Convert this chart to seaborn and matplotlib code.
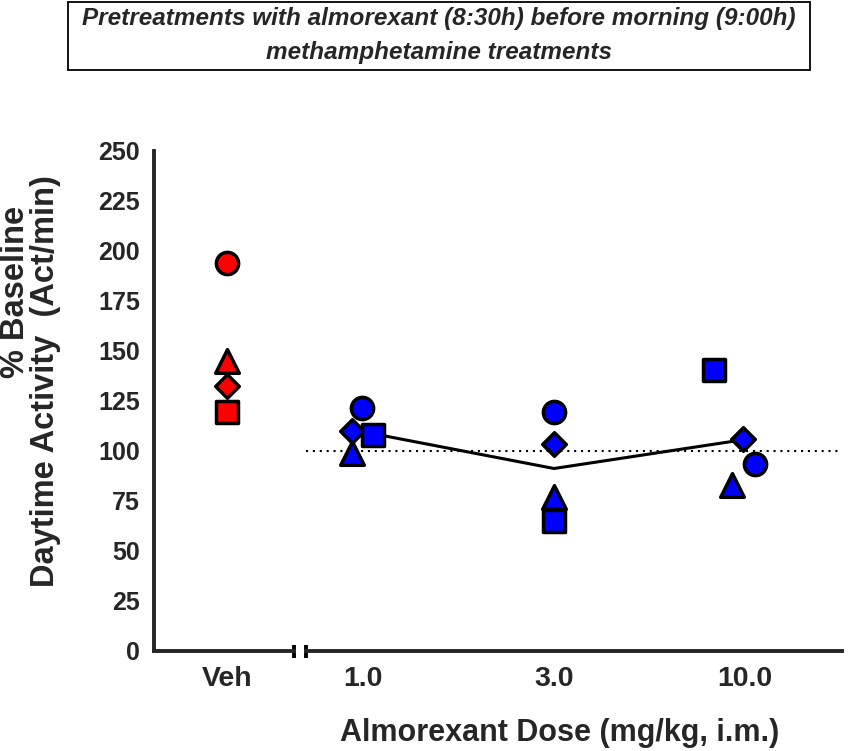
import numpy as np
import pandas as pd
import matplotlib
matplotlib.use("Agg")
import matplotlib.pyplot as plt
from matplotlib.patches import Rectangle
import seaborn as sns

# ======================================
# DATA
# ======================================

doses = ["Veh", "1.0", "3.0", "10.0"]

circle_vals = [194, 121.5, 119.5, 93.5]
triangle_vals = [145, 99, 77, 83]
diamond_vals = [132.5, 110, 103.5, 106]
square_vals = [119.5, 108, 65, 140.5]

# horizontal scatter of each animal around its dose tick
circle_jit = [0, -0.005, 0, 0.05]
triangle_jit = [0, -0.06, 0, -0.07]
diamond_jit = [0, -0.06, 0, -0.01]
square_jit = [0, 0.05, 0, -0.16]

y_ticks = [0, 25, 50, 75, 100, 125, 150, 175, 200, 225, 250]

# ======================================
# LONG-FORM TABLE
# ======================================

subjects = {
    "circle": (circle_vals, circle_jit, "o", 16),
    "triangle": (triangle_vals, triangle_jit, "^", 17),
    "diamond": (diamond_vals, diamond_jit, "D", 12),
    "square": (square_vals, square_jit, "s", 15.5),
}

rows = []
for name, (vals, jit, mk, ms) in subjects.items():
    for i, d in enumerate(doses):
        rows.append({
            "subject": name,
            "dose": d,
            "idx": i,
            "x": i + jit[i],
            "value": vals[i],
        })
df = pd.DataFrame(rows)

veh = df[df["dose"] == "Veh"].copy()
alm = df[df["dose"] != "Veh"].copy()
alm["idx"] = alm["idx"] - 1
alm["x"] = alm["x"] - 1

# ======================================
# FIGURE
# ======================================

sns.set_style("white")
plt.rcParams["font.family"] = ["Liberation Sans", "DejaVu Sans"]
plt.rcParams["font.weight"] = "bold"

W, H = 855, 751
fig = plt.figure(figsize=(W / 100, H / 100), dpi=100)

y0, y1 = 651, 151
x_l0, x_l1 = 154, 294
x_r0, x_r1 = 306, 842
px_per_unit = 191.0
lw_axis = 2.8

ax_l = fig.add_axes([x_l0 / W, 1 - y0 / H, (x_l1 - x_l0) / W, (y0 - y1) / H])
ax_r = fig.add_axes([x_r0 / W, 1 - y0 / H, (x_r1 - x_r0) / W, (y0 - y1) / H])

ax_l.set_xlim((x_l0 - 227) / px_per_unit, (x_l1 - 227) / px_per_unit)
ax_r.set_xlim((x_r0 - 363) / px_per_unit, (x_r1 - 745) / px_per_unit + 2)

for ax in (ax_l, ax_r):
    ax.set_ylim(0, 250)
    ax.set_facecolor("white")
    for s in ["top", "right"]:
        ax.spines[s].set_visible(False)
    ax.spines["bottom"].set_linewidth(lw_axis)
    ax.spines["left"].set_linewidth(lw_axis)
    ax.tick_params(axis="both", direction="out", width=lw_axis, length=7,
                   pad=4, color="black")
    ax.tick_params(axis="x", labelsize=20.5, pad=4)
    ax.tick_params(axis="y", labelsize=18, pad=3)

ax_r.spines["left"].set_visible(False)
ax_r.tick_params(axis="y", left=False, labelleft=False)

ax_l.set_yticks(y_ticks)
ax_l.set_yticklabels([str(t) for t in y_ticks], fontweight="bold")
ax_l.set_xticks([0])
ax_l.set_xticklabels(doses[:1], fontweight="bold")
ax_r.set_xticks([0, 1, 2])
ax_r.set_xticklabels(doses[1:], fontweight="bold")

# axis break marks
ax_l.plot([1, 1], [-0.013, 0.013], transform=ax_l.transAxes,
          color="black", lw=lw_axis, clip_on=False, solid_capstyle="butt")
ax_r.plot([0, 0], [-0.013, 0.013], transform=ax_r.transAxes,
          color="black", lw=lw_axis, clip_on=False, solid_capstyle="butt")

# baseline reference
ax_r.axhline(100, color="black", lw=1.5, ls=(0, (1, 2.3)), zorder=1)

# mean line across almorexant doses
sns.lineplot(data=alm, x="idx", y="value", estimator="mean", errorbar=None,
             color="black", lw=2.2, ax=ax_r, zorder=2, legend=False)

# individual animals
for name, (vals, jit, mk, ms) in subjects.items():
    sns.scatterplot(data=veh[veh["subject"] == name], x="x", y="value",
                    marker=mk, s=ms ** 2, color="#ff0000", edgecolor="black",
                    linewidth=2.5, ax=ax_l, zorder=3, legend=False, clip_on=False)
    sns.scatterplot(data=alm[alm["subject"] == name], x="x", y="value",
                    marker=mk, s=ms ** 2, color="#0000ff", edgecolor="black",
                    linewidth=2.5, ax=ax_r, zorder=3, legend=False, clip_on=False)

for ax in (ax_l, ax_r):
    ax.set_xlabel("")
    ax.set_ylabel("")

# ======================================
# LABELS AND TITLE BOX
# ======================================

fig.text(16 / W, 1 - 292 / H, "% Baseline",
         rotation=90, ha="center", va="center",
         fontsize=23.5, fontweight="bold")
fig.text(46 / W, 1 - 381 / H, "Daytime Activity  (Act/min)",
         rotation=90, ha="center", va="center",
         fontsize=23.5, fontweight="bold")

fig.text(560 / W, 1 - 733 / H, "Almorexant Dose (mg/kg, i.m.)",
         ha="center", va="center", fontsize=22, fontweight="bold")

fig.patches.append(Rectangle((68 / W, 1 - 70 / H), (810 - 68) / W, 68 / H,
                             transform=fig.transFigure, fill=False,
                             edgecolor="black", lw=1.3))
fig.text(439 / W, 1 - 19 / H,
         "Pretreatments with almorexant (8:30h) before morning (9:00h)",
         ha="center", va="center", fontsize=17.5,
         fontweight="bold", fontstyle="italic")
fig.text(439 / W, 1 - 52 / H, "methamphetamine treatments",
         ha="center", va="center", fontsize=17.5,
         fontweight="bold", fontstyle="italic")

fig.savefig("out.png", dpi=100, facecolor="white")
plt.close(fig)
